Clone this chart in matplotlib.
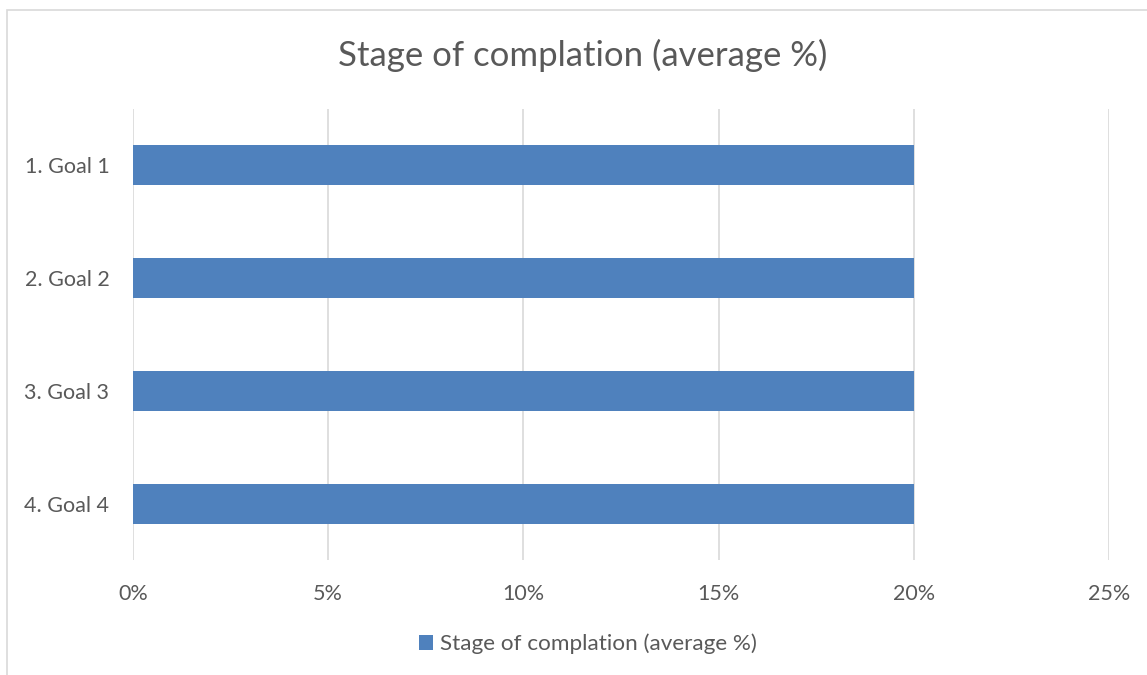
import matplotlib
matplotlib.use("Agg")
import matplotlib.pyplot as plt
from matplotlib.patches import Rectangle
from matplotlib.ticker import FuncFormatter

categories = ["1. Goal 1", "2. Goal 2", "3. Goal 3", "4. Goal 4"]
values = [20, 20, 20, 20]
xticks = [0, 5, 10, 15, 20, 25]
series_name = "Stage of complation (average %)"
title = "Stage of complation (average %)"

plt.rcParams['font.family'] = ['Lato', 'DejaVu Sans']
W, H = 1147, 675
fig = plt.figure(figsize=(W / 100, H / 100), dpi=100)
fig.patch.set_facecolor("white")

# chart border (left/top visible)
fig.patches.append(Rectangle((7 / W, -0.1), 1.2, 1.1 - 10 / H, transform=fig.transFigure,
                             fill=False, edgecolor="#D9D9D9", linewidth=1.2))

ax = fig.add_axes([133 / W, 1 - 560 / H, (1109 - 133) / W, (560 - 109) / H])
ypos = list(range(len(categories)))
ax.barh(ypos, values, height=0.355, color="#4F81BD", label=series_name, zorder=3)
ax.set_ylim(len(categories) - 0.5, -0.5)
ax.set_xlim(0, 25)
ax.set_xticks(xticks)
ax.xaxis.set_major_formatter(FuncFormatter(lambda v, p: f"{v:.0f}%"))
ax.set_yticks(ypos)
ax.set_yticklabels(categories)
ax.grid(axis="x", color="#D9D9D9", linewidth=1.2, zorder=0)
for s in ax.spines.values():
    s.set_visible(False)
ax.tick_params(axis="both", length=0, colors="#595959", labelsize=15.5)
ax.tick_params(axis="x", pad=17)
ax.tick_params(axis="y", pad=17)

fig.text(583 / W, 1 - 55 / H, title, ha="center", va="center", fontsize=25, color="#595959")

leg = fig.legend(loc="center", bbox_to_anchor=(588 / W, 1 - 644 / H), frameon=False,
                 fontsize=16.2, labelcolor="#595959", handlelength=0.62, handleheight=0.62,
                 handletextpad=0.3)

fig.savefig("out.png", dpi=100)
